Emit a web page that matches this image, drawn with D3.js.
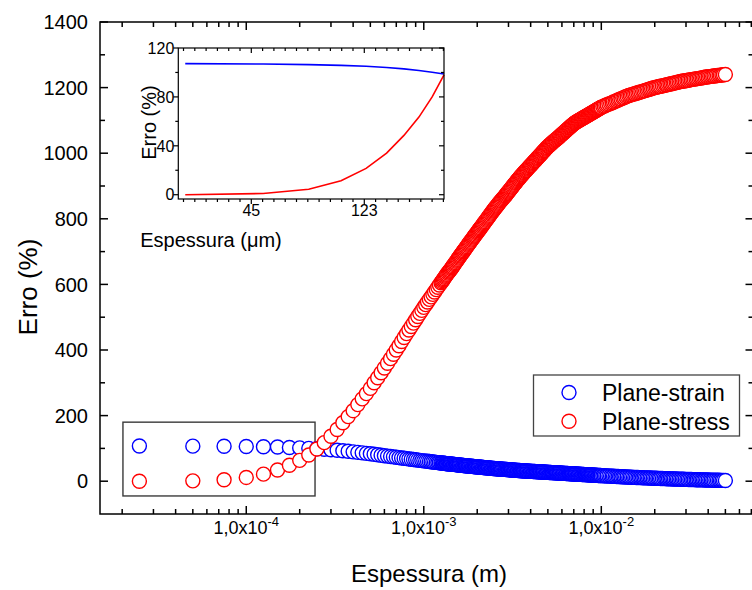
<!DOCTYPE html>
<html>
<head>
<meta charset="utf-8">
<script src="https://cdn.jsdelivr.net/npm/d3@7"></script>
<style>
  html, body { margin: 0; padding: 0; background: #fff; }
  svg { display: block; }
</style>
</head>
<body>
<svg id="chart" width="752" height="590"></svg>
<script>
// Thickness samples (micrometres): every 25 um up to 1.25 mm, then ~1 % steps to 10 mm, ~2 % steps to 50 mm
const thicknessUm = [
  25,50,75,100,125,150,175,200,225,250,
  275,300,325,350,375,400,425,450,475,500,
  525,550,575,600,625,650,675,700,725,750,
  775,800,825,850,875,900,925,950,975,1000,
  1025,1050,1075,1100,1125,1150,1175,1200,1225,1250,
  1262,1275,1288,1300,1313,1325,1338,1350,1365,1380,1395,1410,1425,1440,1452,1465,1480,1495,1510,1525,
  1540,1555,1570,1585,1600,1615,1632,1650,1665,1680,1698,1715,1732,1750,1768,1785,1802,1820,1838,1855,
  1875,1895,1912,1930,1950,1970,1990,2010,2030,2050,2070,2090,2112,2135,2155,2175,2198,2220,2242,2265,
  2288,2310,2332,2355,2378,2400,2425,2450,2475,
  2500,2525,2550,2575,2600,2625,2650,2675,2700,2730,2760,2790,2820,2850,2880,2905,2930,2960,2990,3020,
  3050,3080,3110,3140,3170,3200,3230,3265,3300,3330,3360,3395,3430,3465,3500,3535,3570,3605,3640,3675,
  3710,3750,3790,3825,3860,3900,3940,3980,4020,4060,4100,4140,4180,4225,4270,4310,4350,4395,4440,4485,
  4530,4575,4620,4665,4710,4755,4800,4850,4900,4950,
  5000,5050,5100,5150,5200,5250,5300,5350,5400,5460,5520,5580,5640,5700,5760,5810,5860,5920,5980,6040,
  6100,6160,6220,6280,6340,6400,6460,6530,6600,6660,6720,6790,6860,6930,7000,7070,7140,7210,7280,7350,
  7420,7500,7580,7650,7720,7800,7880,7960,8040,8120,8200,8280,8360,8450,8540,8620,8700,8790,8880,8970,
  9060,9150,9240,9330,9420,9510,9600,9700,9800,9900,
  10000,10200,10400,10600,10800,11040,11280,11520,11720,11960,12200,12440,12680,12920,13200,13440,13720,14000,
  14280,14560,14840,15160,15440,15760,16080,16400,16720,17080,17400,17760,18120,18480,18840,19200,19600,
  20000,20400,20800,21200,21600,22080,22560,23040,23440,23920,24400,24880,25360,25840,26400,26880,27440,28000,
  28560,29120,29680,30320,30880,31520,32160,32800,33440,34160,34800,35520,36240,36960,37680,38400,39200,
  40000,40800,41600,42400,43200,44160,45120,46080,46880,47840,48800,50000
];

// Error (%) of the plane-strain model
const planeStrain = [
  107.2,106.9,106.4,105.8,105.1,104.1,102.9,101.6,100.2,98.8,
  97.3,95.8,94.2,92.8,91.1,89.5,88,86.4,84.9,83.5,
  82,80.5,79.1,77.8,76.5,75.3,74.1,73,71.9,70.9,
  69.9,68.9,67.9,67,66.1,65.3,64.4,63.6,62.8,62,
  61.3,60.6,59.9,59.2,58.6,57.9,57.3,56.7,56.1,55.5,
  55.25,55,54.75,54.5,54.25,54,53.7,53.4,53.15,52.9,52.65,52.4,52.15,51.9,51.65,51.4,51.15,50.9,50.65,50.4,
  50.1,49.8,49.55,49.3,49.05,48.8,48.55,48.3,48.05,47.8,47.55,47.3,47.05,46.8,46.55,46.3,46.05,45.8,45.6,45.4,
  45.15,44.9,44.65,44.4,44.2,44,43.75,43.5,43.3,43.1,42.85,42.6,42.35,42.1,41.9,41.7,41.45,41.2,41,40.8,
  40.55,40.3,40.1,39.9,39.65,39.4,39.15,38.9,38.7,
  38.5,38.3,38.1,37.95,37.8,37.6,37.4,37.2,37,36.8,36.6,36.45,36.3,36.1,35.9,35.7,35.5,35.35,35.2,35,
  34.8,34.6,34.4,34.2,34,33.85,33.7,33.5,33.3,33.1,32.9,32.75,32.6,32.4,32.2,32.05,31.9,31.75,31.6,31.45,
  31.3,31.15,31,30.85,30.7,30.55,30.4,30.25,30.1,30,29.9,29.75,29.6,29.45,29.3,29.15,29,28.85,28.7,28.55,
  28.4,28.25,28.1,28,27.9,27.75,27.6,27.45,27.3,27.15,
  27,26.85,26.7,26.55,26.4,26.25,26.1,26,25.9,25.75,25.6,25.45,25.3,25.15,25,24.85,24.7,24.55,24.4,24.25,
  24.1,24,23.9,23.75,23.6,23.45,23.3,23.15,23,22.85,22.7,22.55,22.4,22.25,22.1,22,21.9,21.75,21.6,21.45,
  21.3,21.15,21,20.85,20.7,20.55,20.4,20.25,20.1,20,19.9,19.75,19.6,19.45,19.3,19.15,19,18.85,18.7,18.55,
  18.4,18.25,18.1,18,17.9,17.75,17.6,17.45,17.3,17.15,
  17,16.7,16.5,16.2,16,15.7,15.5,15.2,14.9,14.7,14.4,14.2,13.9,13.7,13.4,13.1,12.9,12.6,
  12.4,12.2,12,11.8,11.6,11.4,11.2,11,10.8,10.6,10.4,10.2,10,9.8,9.6,9.4,9.2,
  9,8.8,8.7,8.5,8.3,8.1,8,7.8,7.6,7.5,7.3,7.1,6.9,6.8,6.6,6.4,6.3,6.1,
  5.9,5.8,5.6,5.5,5.4,5.2,5.1,4.9,4.8,4.6,4.5,4.4,4.2,4.1,3.9,3.8,3.6,
  3.5,3.4,3.3,3.2,3,2.9,2.8,2.7,2.6,2.5,2.4,2.2
];

// Error (%) of the plane-stress model
const planeStress = [
  0,1.0,4.5,11.5,21.5,34,48.5,63.5,80,98,
  117.5,137,157.5,178,197,215,233.5,251,267,283,
  300,315.4,330.5,345,359.6,373.6,387,400,413,425.8,
  438,450,461,471.7,482,492.3,502,511.6,520.7,530,
  538.3,546.4,554.3,562,569.6,577,584.2,591.3,598.2,605,
  608.3,611.5,614.8,618,621.3,624.5,627.8,631,634.3,637.6,640.9,644.1,647.4,650.6,653.9,657.1,660.4,663.6,666.9,670.1,
  673.4,676.7,680,683.2,686.5,689.7,693,696.2,699.5,702.7,706,709.2,712.5,715.7,719,722.2,725.4,728.5,731.7,734.9,
  738.1,741.2,744.4,747.5,750.7,753.9,757.1,760.2,763.4,766.6,769.8,772.9,776.1,779.3,782.5,785.6,788.8,791.9,795.1,798.3,
  801.5,804.6,807.8,811,814.2,817.3,820.5,823.7,826.9,
  830,832.9,835.8,838.7,841.5,844.4,847.3,850.2,853.1,856,858.9,861.8,864.6,867.5,870.4,873.3,876.2,879,881.9,884.8,
  887.7,890.6,893.5,896.4,899.3,902.2,905,907.9,910.8,913.7,916.6,919.5,922.3,925.2,928.1,930.8,933.5,936,938.6,941.2,
  943.7,946.3,948.8,951.4,953.9,956.5,959,961.6,964.1,966.6,969.1,971.7,974.2,976.8,979.3,981.9,984.4,987,989.5,992.1,
  994.6,997.2,999.7,1002.2,1004.7,1007.3,1009.8,1012.4,1014.9,1017.5,
  1020,1022,1024.1,1026.2,1028.2,1030.3,1032.3,1034.4,1036.5,1038.5,1040.6,1042.6,1044.7,1046.8,1048.8,1050.9,1052.9,1055,1057,1059.1,
  1061.1,1063.2,1065.3,1067.3,1069.4,1071.4,1073.5,1075.6,1077.6,1079.7,1081.7,1083.8,1085.8,1087.9,1089.9,1091.7,1093.4,1094.8,1096.1,1097.5,
  1098.9,1100.2,1101.6,1103,1104.3,1105.7,1107.1,1108.4,1109.8,1111.2,1112.5,1113.9,1115.3,1116.6,1118,1119.4,1120.8,1122.1,1123.5,1124.9,
  1126.2,1127.6,1129,1130.3,1131.7,1133.1,1134.5,1135.8,1137.2,1138.6,
  1140,1142,1144,1146,1148,1150,1152,1154,1156,1158,1160,1162,1164,1166,1168,1170,1172,1174,
  1175.7,1177.1,1178.6,1180,1181.4,1182.9,1184.3,1185.7,1187.1,1188.6,1190,1191.4,1192.9,1194.3,1195.7,1197.1,1198.6,
  1200,1201.1,1202.2,1203.3,1204.3,1205.4,1206.5,1207.6,1208.7,1209.8,1210.9,1211.9,1213,1214.1,1215.2,1216.3,1217.4,1218.5,
  1219.4,1220.2,1221,1221.8,1222.6,1223.4,1224.2,1225,1225.8,1226.6,1227.4,1228.2,1229,1229.8,1230.6,1231.4,1232.2,
  1233,1233.6,1234.2,1234.9,1235.5,1236.1,1236.7,1237.3,1238,1238.6,1239.2,1240
];

const seriesNames = ["Plane-strain", "Plane-stress"];
const seriesColors = ["#0000ff", "#ff0000"];

// Main axes ticks
const yMajorTicks = [0, 200, 400, 600, 800, 1000, 1200, 1400];
const yMinorTicks = [100, 300, 500, 700, 900, 1100, 1300];
const xMajorExponents = [-4, -3, -2];
const xMinorDecades = [-5, -4, -3, -2];

// Inset ticks (thickness in um, error in %)
const insetXTicks = [45, 123];
const insetYTicks = [0, 40, 80, 120];
const insetYMinorTicks = [20, 60, 100];
const insetPointCount = 10;

// Region of the main plot that the inset enlarges (data units)
const zoomRegion = { t0: 2.02e-5, t1: 2.44e-4, e0: -45, e1: 180 };

const FONT = "'Liberation Sans', Arial, Helvetica, sans-serif";
const W = 752, H = 590;

const svg = d3.select("#chart");
svg.append("rect").attr("width", W).attr("height", H).attr("fill", "#fff");

const x = d3.scaleLog().domain([1.5e-5, 7.2e-2]).range([100, 753.5]);
const y = d3.scaleLinear().domain([-100, 1400]).range([514, 22]);

const points = thicknessUm.map((t, i) => ({ t: t * 1e-6, strain: planeStrain[i], stress: planeStress[i] }));

const [xl, xr] = x.range();
const [yb, yt] = y.range();

// region enlarged in the inset
svg.append("rect")
  .attr("x", x(zoomRegion.t0)).attr("y", y(zoomRegion.e1))
  .attr("width", x(zoomRegion.t1) - x(zoomRegion.t0))
  .attr("height", y(zoomRegion.e0) - y(zoomRegion.e1))
  .attr("fill", "none").attr("stroke", "#3a3a3a").attr("stroke-width", 1.4);

// ---- markers: open circles, each drawn over the previous one ----
const R = 7, SW = 1.4;
const gStrain = svg.append("g");
gStrain.selectAll("circle").data(points).join("circle")
  .attr("cx", d => x(d.t)).attr("cy", d => y(d.strain)).attr("r", R)
  .attr("fill", "#fff").attr("stroke", seriesColors[0]).attr("stroke-width", SW);

const gStress = svg.append("g");
gStress.selectAll("circle").data(points).join("circle")
  .attr("cx", d => x(d.t)).attr("cy", d => y(d.stress)).attr("r", R)
  .attr("fill", "#fff").attr("stroke", seriesColors[1]).attr("stroke-width", SW);

// ---- frame & ticks (all pointing inward) ----
const axisG = svg.append("g").attr("stroke", "#000").attr("stroke-width", 1.5);
axisG.append("rect").attr("x", xl).attr("y", yt).attr("width", xr - xl).attr("height", yb - yt)
  .attr("fill", "none");

const xMinor = [];
xMinorDecades.forEach(d => {
  for (let m = 2; m <= 9; m++) {
    const v = m * Math.pow(10, d);
    if (v > x.domain()[0] && v < x.domain()[1]) xMinor.push(v);
  }
});
const xMajor = xMajorExponents.map(e => Math.pow(10, e));
const MAJ = 8, MIN = 5;

xMajor.forEach(v => {
  axisG.append("line").attr("x1", x(v)).attr("x2", x(v)).attr("y1", yb).attr("y2", yb - MAJ);
  axisG.append("line").attr("x1", x(v)).attr("x2", x(v)).attr("y1", yt).attr("y2", yt + MAJ);
});
xMinor.forEach(v => {
  axisG.append("line").attr("x1", x(v)).attr("x2", x(v)).attr("y1", yb).attr("y2", yb - MIN);
  axisG.append("line").attr("x1", x(v)).attr("x2", x(v)).attr("y1", yt).attr("y2", yt + MIN);
});
yMajorTicks.forEach(v => {
  axisG.append("line").attr("x1", xl).attr("x2", xl + MAJ).attr("y1", y(v)).attr("y2", y(v));
  axisG.append("line").attr("x1", xr).attr("x2", xr - MAJ).attr("y1", y(v)).attr("y2", y(v));
});
yMinorTicks.forEach(v => {
  axisG.append("line").attr("x1", xl).attr("x2", xl + MIN).attr("y1", y(v)).attr("y2", y(v));
  axisG.append("line").attr("x1", xr).attr("x2", xr - MIN).attr("y1", y(v)).attr("y2", y(v));
});

// tick labels
svg.append("g").selectAll("text").data(yMajorTicks).join("text")
  .attr("x", 88).attr("y", d => y(d)).attr("dy", "0.36em")
  .attr("text-anchor", "end").attr("font-family", FONT).attr("font-size", 20)
  .text(d => d);

const xLabels = svg.append("g").attr("font-family", FONT);
xMajorExponents.forEach(e => {
  const t = xLabels.append("text").attr("x", x(Math.pow(10, e))).attr("y", 534)
    .attr("text-anchor", "middle").attr("font-size", 18);
  t.append("tspan").text("1,0x10");
  t.append("tspan").attr("dy", -8).attr("font-size", 13).text(String(e));
});

// axis titles
svg.append("text").attr("x", 429).attr("y", 582).attr("text-anchor", "middle")
  .attr("font-family", FONT).attr("font-size", 24).text("Espessura (m)");
svg.append("text").attr("transform", "translate(37,287) rotate(-90)").attr("text-anchor", "middle")
  .attr("font-family", FONT).attr("font-size", 26).text("Erro (%)");

// ---- legend ----
const lg = svg.append("g");
lg.append("rect").attr("x", 533.5).attr("y", 375).attr("width", 206).attr("height", 61)
  .attr("fill", "#fff").attr("stroke", "#444").attr("stroke-width", 1.3);
seriesNames.forEach((name, i) => {
  const cy = 392.5 + i * 28.8;
  lg.append("circle").attr("cx", 569).attr("cy", cy).attr("r", R)
    .attr("fill", "#fff").attr("stroke", seriesColors[i]).attr("stroke-width", SW);
  lg.append("text").attr("x", 602).attr("y", cy).attr("dy", "0.36em")
    .attr("font-family", FONT).attr("font-size", 23).text(name);
});

// ---- inset: first thickness values on a log axis in micrometres ----
const ix = d3.scaleLog().domain([23.5, 250]).range([178.3, 444]);
const iy = d3.scaleLinear().domain([-3.5, 120]).range([199, 48]);
const [ixl, ixr] = ix.range();
const [iyb, iyt] = iy.range();
const inset = svg.append("g");
inset.append("rect").attr("x", ixl).attr("y", iyt).attr("width", ixr - ixl).attr("height", iyb - iyt)
  .attr("fill", "#fff");

const insetPts = thicknessUm.slice(0, insetPointCount)
  .map((t, i) => ({ t, strain: planeStrain[i], stress: planeStress[i] }));
inset.append("path").datum(insetPts)
  .attr("d", d3.line().x(d => ix(d.t)).y(d => iy(d.strain)))
  .attr("fill", "none").attr("stroke", seriesColors[0]).attr("stroke-width", 1.6);
inset.append("path").datum(insetPts)
  .attr("d", d3.line().x(d => ix(d.t)).y(d => iy(d.stress)))
  .attr("fill", "none").attr("stroke", seriesColors[1]).attr("stroke-width", 1.6);

const iax = inset.append("g").attr("stroke", "#000").attr("stroke-width", 1.2);
iax.append("rect").attr("x", ixl).attr("y", iyt).attr("width", ixr - ixl).attr("height", iyb - iyt)
  .attr("fill", "none");

// evenly spaced (in log) minor ticks, ten intervals between the labelled ticks
const ratio = Math.pow(insetXTicks[1] / insetXTicks[0], 1 / 10);
const insetXMinor = [];
for (let v = insetXTicks[0] / ratio; v >= ix.domain()[0]; v /= ratio) insetXMinor.push(v);
for (let k = 1; k < 10; k++) insetXMinor.push(insetXTicks[0] * Math.pow(ratio, k));
for (let v = insetXTicks[1] * ratio; v <= ix.domain()[1] * 0.999; v *= ratio) insetXMinor.push(v);

insetXTicks.forEach(v => {
  iax.append("line").attr("x1", ix(v)).attr("x2", ix(v)).attr("y1", iyb).attr("y2", iyb + 5);
  iax.append("line").attr("x1", ix(v)).attr("x2", ix(v)).attr("y1", iyt).attr("y2", iyt + 5);
});
insetXMinor.forEach(v => {
  iax.append("line").attr("x1", ix(v)).attr("x2", ix(v)).attr("y1", iyb).attr("y2", iyb + 3);
  iax.append("line").attr("x1", ix(v)).attr("x2", ix(v)).attr("y1", iyt).attr("y2", iyt + 3);
});
insetYTicks.forEach(v => {
  iax.append("line").attr("x1", ixl).attr("x2", ixl - 5).attr("y1", iy(v)).attr("y2", iy(v));
  iax.append("line").attr("x1", ixr).attr("x2", ixr - 5).attr("y1", iy(v)).attr("y2", iy(v));
});
insetYMinorTicks.forEach(v => {
  iax.append("line").attr("x1", ixl).attr("x2", ixl - 3).attr("y1", iy(v)).attr("y2", iy(v));
  iax.append("line").attr("x1", ixr).attr("x2", ixr - 3).attr("y1", iy(v)).attr("y2", iy(v));
});

inset.append("g").selectAll("text").data(insetYTicks).join("text")
  .attr("x", ixl - 4).attr("y", d => iy(d)).attr("dy", "0.36em").attr("text-anchor", "end")
  .attr("font-family", FONT).attr("font-size", 16).text(d => d);
inset.append("g").selectAll("text").data(insetXTicks).join("text")
  .attr("x", d => ix(d)).attr("y", 216).attr("text-anchor", "middle")
  .attr("font-family", FONT).attr("font-size", 16).text(d => d);

inset.append("text").attr("x", 211).attr("y", 247).attr("text-anchor", "middle")
  .attr("font-family", FONT).attr("font-size", 20).text("Espessura (μm)");
inset.append("text").attr("transform", "translate(156,122.5) rotate(-90)").attr("text-anchor", "middle")
  .attr("font-family", FONT).attr("font-size", 20).text("Erro (%)");
</script>
</body>
</html>
